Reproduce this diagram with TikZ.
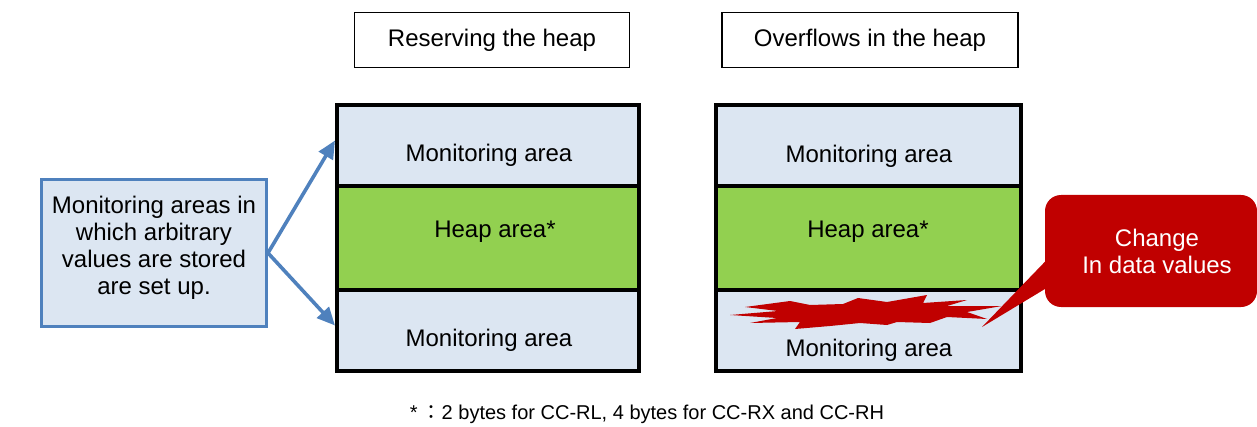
\documentclass[tikz,border=0pt]{standalone}
\usepackage{fontspec}
\setmainfont{Liberation Sans}
\newfontfamily\cjk{Noto Sans CJK JP}
\usetikzlibrary{arrows.meta,calc}

\definecolor{areablue}{HTML}{DCE6F2}
\definecolor{heapgreen}{HTML}{92D050}
\definecolor{noteblue}{HTML}{4F81BD}
\definecolor{alertred}{HTML}{C00000}

\tikzset{
  titlebox/.style={draw,line width=0.6pt,minimum height=27.5pt,inner sep=0pt},
  monbox/.style={draw,fill=areablue,line width=2pt,minimum height=40.5pt,inner sep=0pt},
  heapbox/.style={draw,fill=heapgreen,line width=2pt,minimum height=52pt,inner sep=0pt},
  notebox/.style={draw=noteblue,fill=areablue,line width=1.5pt,minimum width=112.5pt,minimum height=73.5pt},
  notearrow/.style={draw=noteblue,line width=1.8pt,-{Triangle[length=9pt,width=8pt]}},
  changebox/.style={fill=alertred,text=white,rounded corners=8pt,minimum width=106pt,minimum height=56pt,align=center}
}

\begin{document}
\begin{tikzpicture}[x=0.5pt,y=-0.5pt,every node/.style={font=\fontsize{12}{13.5}\selectfont}]
  \useasboundingbox (0,0) rectangle (1257,427);
  % titles
  \node[titlebox,minimum width=137.5pt] (ltitle) at (492,40) {Reserving the heap};
  \node[titlebox,minimum width=148pt] (rtitle) at (870,40) {Overflows in the heap};
  % heap before overflow
  \node[monbox,minimum width=151pt] (lmontop) at (488,145.5) {};
  \node[heapbox,minimum width=151pt] (lheap) at (488,238) {};
  \node[monbox,minimum width=151pt] (lmonbot) at (488,330.5) {};
  \node (lmontoptext) at (489,155) {Monitoring area};
  \node (lheaptext) at (495,232) {Heap area*};
  \node (lmonbottext) at (489,340) {Monitoring area};
  % heap after overflow
  \node[monbox,minimum width=152.5pt] (rmontop) at (868.5,145.5) {};
  \node[heapbox,minimum width=152.5pt] (rheap) at (868.5,238) {};
  \node[monbox,minimum width=152.5pt] (rmonbot) at (868.5,330.5) {};
  \fill[alertred] (730,315) -- (778,311) -- (745,307) -- (790,301) -- (810,305)
    -- (843,304) -- (858,298) -- (887,302) -- (927,295) -- (923,303) -- (967,300)
    -- (947,306) -- (1002,306) -- (967,312) -- (987,319) -- (947,317) -- (930,323)
    -- (897,322) -- (887,325) -- (860,323) -- (830,326) -- (795,329) -- (800,322)
    -- (750,323) -- (777,318) -- cycle;
  \node (rmontoptext) at (869,156) {Monitoring area};
  \node (rheaptext) at (868,232) {Heap area*};
  \node (rmonbottext) at (869,350) {Monitoring area};
  % note on the left
  \node[notebox] (note) at (154,253) {};
  \node[align=center] (notetext) at (154,248) {Monitoring areas in\\which arbitrary\\values are stored\\are set up.};
  \draw[notearrow] (note.east) -- ([yshift=2.5pt]lmontop.west);
  \draw[notearrow] (note.east) -- ([yshift=2.5pt]lmonbot.west);
  % callout
  \node[changebox] (change) at (1151,251) {\hspace*{6pt}Change\\\hspace*{6pt}In data values};
  \coordinate (tip) at (982,327);
  \fill[alertred] ($(change.west)+(2,9)$) -- (tip) -- ($(change.west)+(2,37)$) -- cycle;
  % footnote
  \node[font=\fontsize{10}{12}\selectfont] (footnote) at (647,414) {*\hspace{2pt}{\cjk ：}2 bytes for CC-RL, 4 bytes for CC-RX and CC-RH};
\end{tikzpicture}
\end{document}
